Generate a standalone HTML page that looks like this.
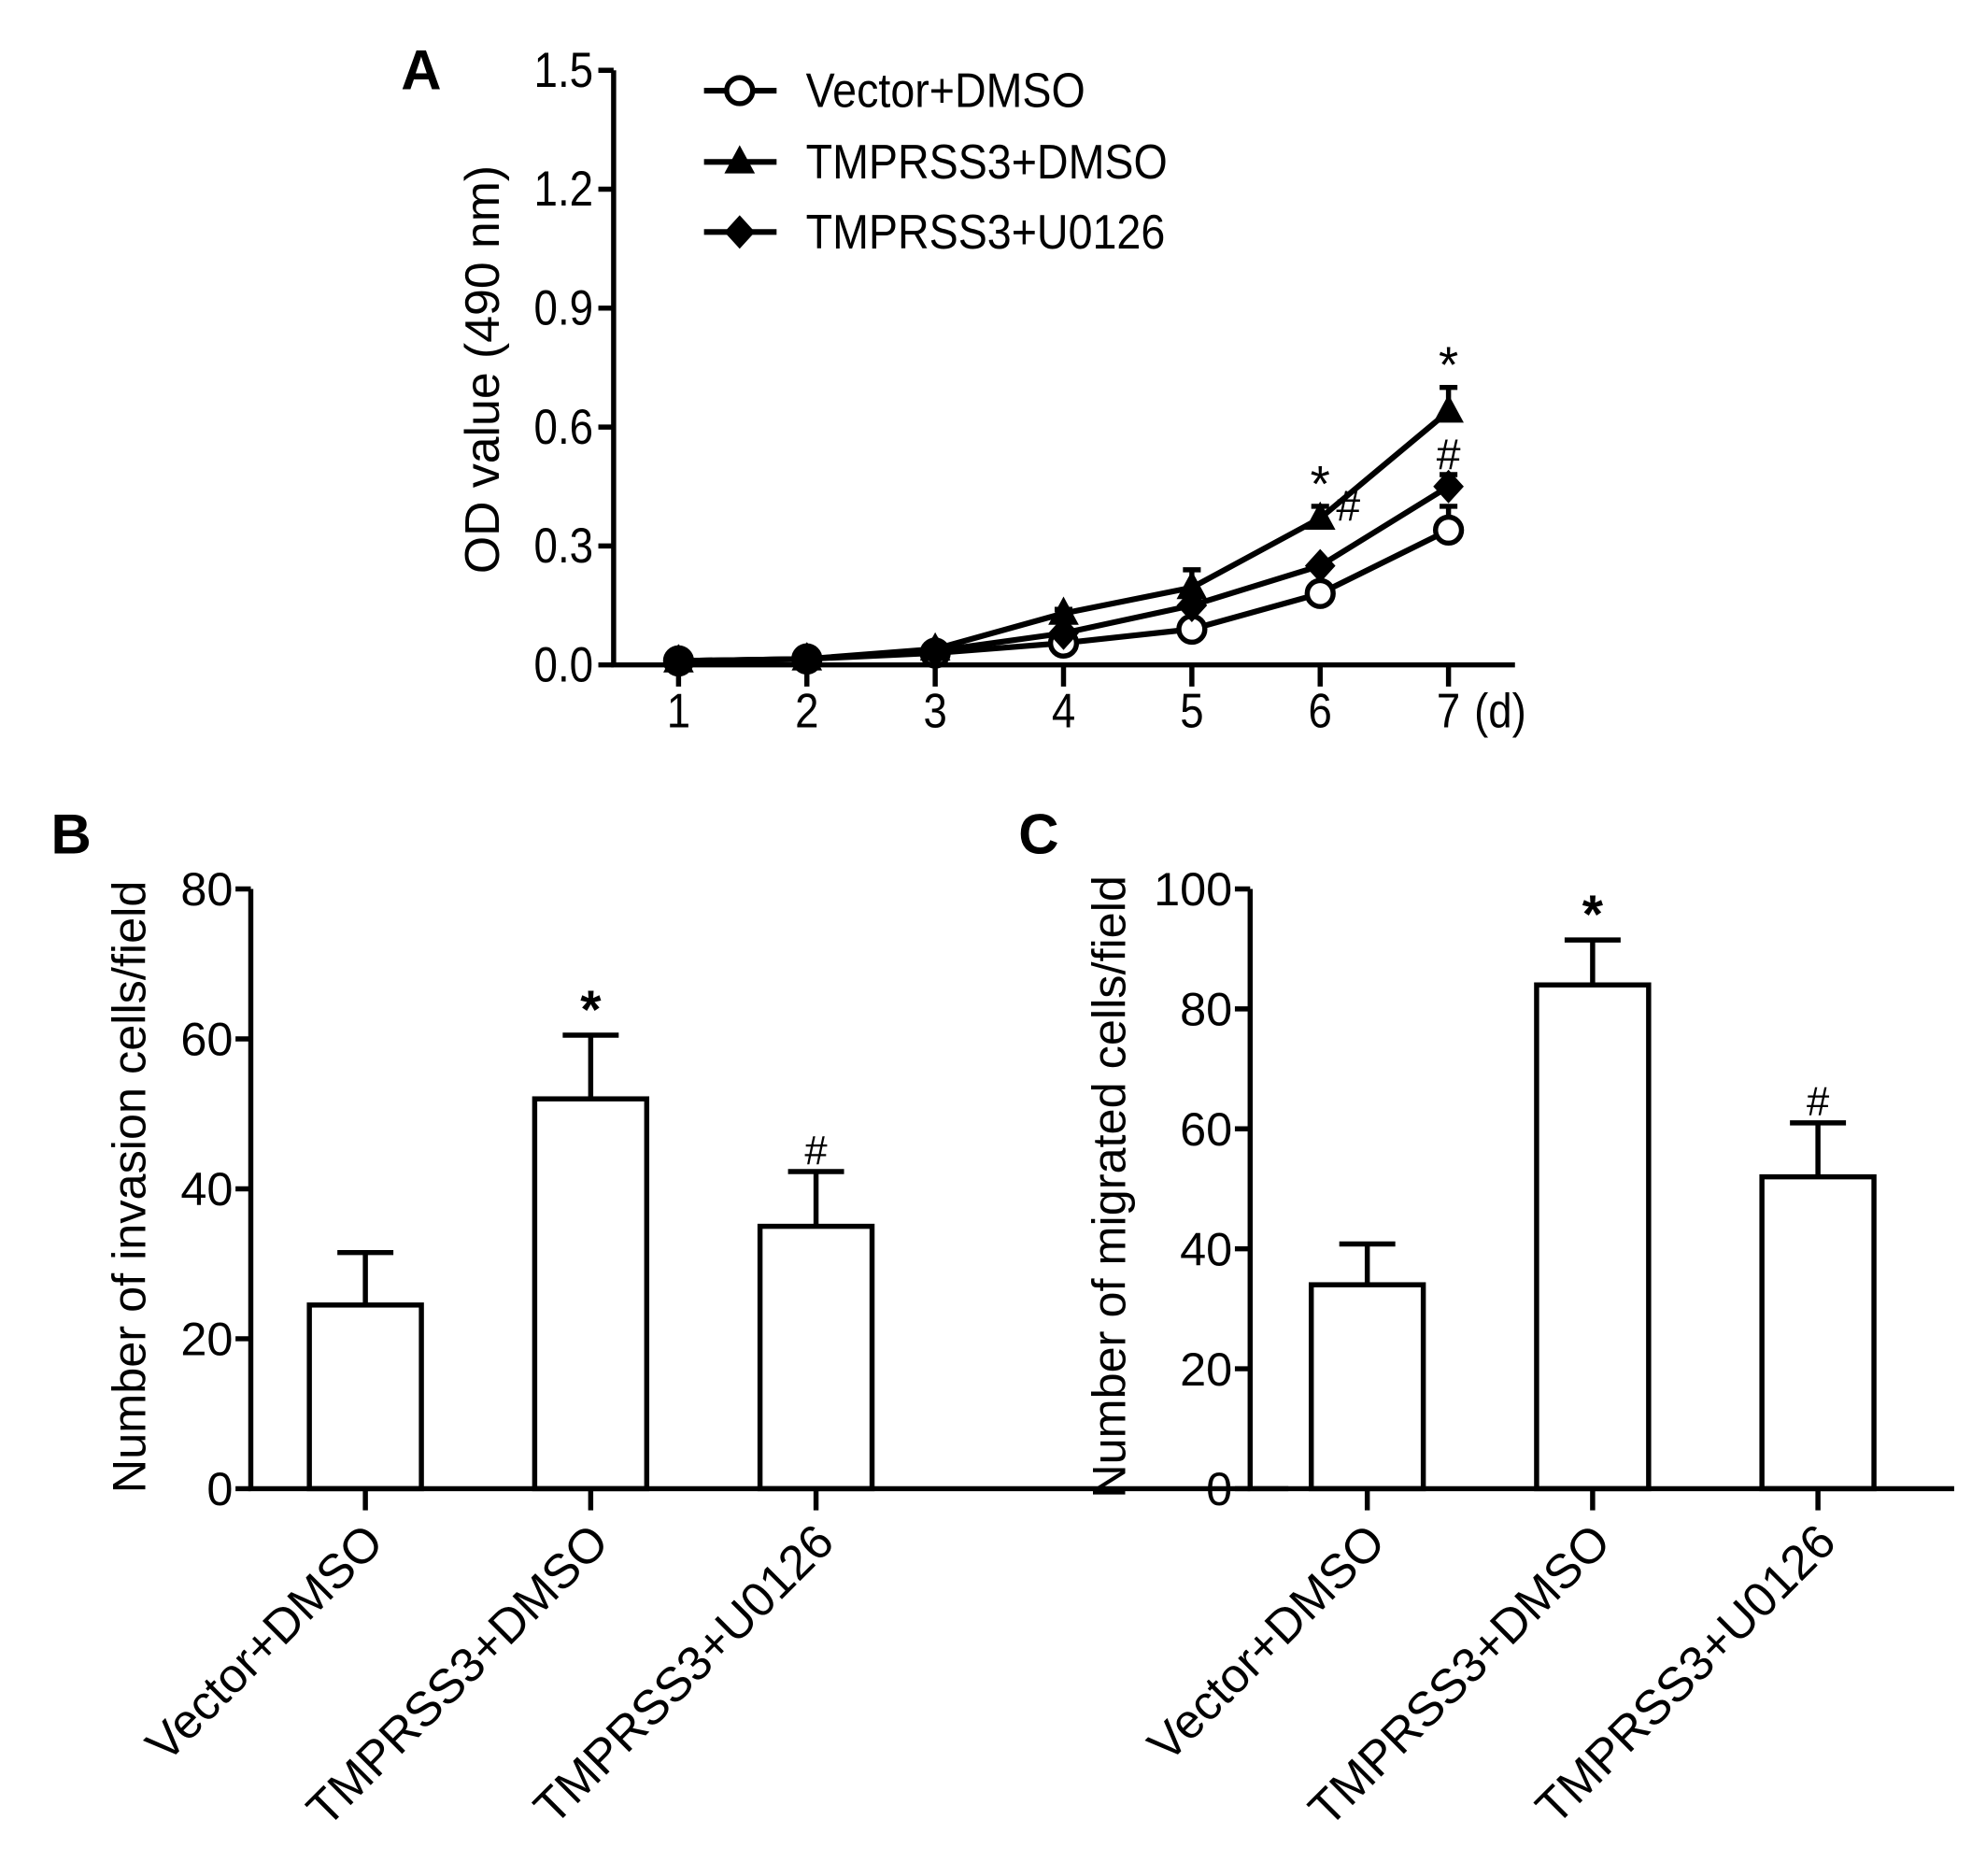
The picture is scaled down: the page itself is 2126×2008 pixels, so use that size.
<!DOCTYPE html>
<html><head><meta charset="utf-8"><style>
html,body{margin:0;padding:0;background:#fff;}
svg{display:block;}
text{font-family:"Liberation Sans",Arial,sans-serif;fill:#000;}
</style></head><body>
<svg id="fig" width="2126" height="2008" viewBox="0 0 1560 1473" xmlns="http://www.w3.org/2000/svg">
<g id="pa"></g>
<g id="pb"></g>
<g id="pc"></g>
</svg>
<script>
// Panel A data
const daysA = [1,2,3,4,5,6,7];
const seriesNames = ["Vector+DMSO","TMPRSS3+DMSO","TMPRSS3+U0126"];
const vectorVals = [0.01,0.015,0.03,0.055,0.09,0.18,0.34];
const vectorErr = [0,0,0,0,0,0.02,0.06];
const tmpVals = [0.01,0.015,0.04,0.13,0.195,0.37,0.64];
const tmpErr = [0,0,0,0.01,0.045,0.03,0.06];
const uVals = [0.01,0.015,0.035,0.08,0.15,0.25,0.45];
const uErr = [0,0,0,0,0.01,0.01,0.03];
const yTicksA = [0,0.3,0.6,0.9,1.2,1.5];
const yTickLabelsA = ["0.0","0.3","0.6","0.9","1.2","1.5"];
// Panel B data
const catsB = ["Vector+DMSO","TMPRSS3+DMSO","TMPRSS3+U0126"];
const valsB = [24.5,52,35];
const errB = [7,8.5,7.3];
const marksB = ["","*","#"];
const yTicksB = [0,20,40,60,80];
// Panel C data
const catsC = ["Vector+DMSO","TMPRSS3+DMSO","TMPRSS3+U0126"];
const valsC = [34,84,52];
const errC = [6.8,7.5,9];
const marksC = ["","*","#"];
const yTicksC = [0,20,40,60,80,100];

const NS="http://www.w3.org/2000/svg";
function mk(parent,tag,attrs,txt){const e=document.createElementNS(NS,tag);for(const k in attrs)e.setAttribute(k,attrs[k]);if(txt!==undefined)e.textContent=txt;parent.appendChild(e);return e;}
const SW=4;

// ---- Panel A
(function(){
const g=document.getElementById('pa');
const x0=482,x1=1190,y0=522,yTop=55;
const xs=d=>533+(d-1)*100.8;
const ys=v=>y0-(v/1.5)*(y0-yTop);
let t=mk(g,'text',{x:315,y:70,'font-size':44,'font-weight':'bold'},'A');

let ax=mk(g,'path',{d:`M${x0},${yTop} V${y0} H${x1}`,stroke:'#000','stroke-width':SW,fill:'none'});

yTicksA.forEach((v,i)=>{
  const l=mk(g,'line',{x1:x0-12,x2:x0,y1:ys(v),y2:ys(v),stroke:'#000','stroke-width':SW});
  
  const tt=mk(g,'text',{x:x0-16,y:ys(v)+13,'font-size':39,'text-anchor':'end',transform:`translate(${x0-16},0) scale(0.86,1) translate(${-(x0-16)},0)`},yTickLabelsA[i]);
  
});
daysA.forEach(d=>{
  const l=mk(g,'line',{x1:xs(d),x2:xs(d),y1:y0,y2:y0+17,stroke:'#000','stroke-width':SW});
  
  const tt=mk(g,'text',{x:xs(d),y:571,'font-size':38,'text-anchor':'middle',transform:`translate(${xs(d)},0) scale(0.88,1) translate(${-xs(d)},0)`},String(d));
  
});
t=mk(g,'text',{x:1158,y:571,'font-size':38,transform:'translate(1158,0) scale(0.88,1) translate(-1158,0)'},'(d)');

t=mk(g,'text',{x:0,y:0,'font-size':38,'text-anchor':'middle',transform:'translate(392,290) rotate(-90)'},'OD value (490 nm)');

function marker(gg,type,x,y,s){
  if(type==='circle')return mk(gg,'circle',{cx:x,cy:y,r:s*0.85,fill:'#fff',stroke:'#000','stroke-width':SW});
  if(type==='tri')return mk(gg,'path',{d:`M${x},${y-s*1.1} L${x+s},${y+s*0.75} L${x-s},${y+s*0.75}Z`,fill:'#000'});
  return mk(gg,'path',{d:`M${x},${y-s*1.1} L${x+s},${y} L${x},${y+s*1.1} L${x-s},${y}Z`,fill:'#000'});
}
const all=[[vectorVals,vectorErr,'circle','series-vector-dmso'],[tmpVals,tmpErr,'tri','series-tmprss3-dmso'],[uVals,uErr,'diamond','series-tmprss3-u0126']];
all.forEach(([vals,errs,type,name])=>{
  const sg=mk(g,'g',{});
  
  vals.forEach((v,i)=>{ if(errs[i]>0){
    mk(sg,'path',{d:`M${xs(daysA[i])},${ys(v)} V${ys(v+errs[i])} M${xs(daysA[i])-7},${ys(v+errs[i])} H${xs(daysA[i])+7}`,stroke:'#000','stroke-width':SW,fill:'none'});}});
  const p=mk(sg,'polyline',{points:vals.map((v,i)=>xs(daysA[i])+','+ys(v)).join(' '),stroke:'#000','stroke-width':4.5,fill:'none'});
  
  vals.forEach((v,i)=>{const m=marker(sg,type,xs(daysA[i]),ys(v),12);
    });
});
[[6,tmpVals[5]+tmpErr[5],'*',0,40],[7,tmpVals[6]+tmpErr[6],'*',0,40],[7,uVals[6]+uErr[6],'#',0,34],[6,uVals[5]+0.1,'#',22,34]].forEach(([d,v,s,dx,fs])=>{
  const tt=mk(g,'text',{x:xs(d)+dx,y:ys(v)-4,'font-size':fs,'text-anchor':'middle'},s);
  
});
const names=seriesNames,types=['circle','tri','diamond'],ly=[71,127,182];
names.forEach((n,i)=>{
  const lg=mk(g,'g',{});
  
  mk(lg,'line',{x1:553,x2:610,y1:ly[i],y2:ly[i],stroke:'#000','stroke-width':4.5});
  marker(lg,types[i],581,ly[i],12);
  mk(lg,'text',{x:633,y:ly[i]+13,'font-size':38,transform:`translate(633,0) scale(0.9,1) translate(-633,0)`},n);
});
})();

// ---- Bar panels
function barPanel(id,letter,lx,x0,x1,ymax,cats,vals,errs,marks,ticks,title,titleX,bars){
const g=document.getElementById(id);
const y0=1169,yTop=698;
const ys=v=>y0-(v/ymax)*(y0-yTop);
let t=mk(g,'text',{x:lx,y:670,'font-size':44,'font-weight':'bold'},letter);

cats.forEach((c,i)=>{
  const cx=bars[0]+i*bars[1],w=88;
  const e=mk(g,'path',{d:`M${cx},${ys(vals[i])} V${ys(vals[i]+errs[i])} M${cx-22},${ys(vals[i]+errs[i])} H${cx+22}`,stroke:'#000','stroke-width':SW,fill:'none'});
  
  const r=mk(g,'rect',{x:cx-w/2,y:ys(vals[i]),width:w,height:y0-ys(vals[i]),fill:'#fff',stroke:'#000','stroke-width':SW});
  
  if(marks[i]){const m=mk(g,'text',{x:cx,y:ys(vals[i]+errs[i])-6,'font-size':marks[i]==='*'?42:32,'font-weight':marks[i]==='*'?'bold':'normal','text-anchor':'middle'},marks[i]);
    }
  const tk=mk(g,'line',{x1:cx,x2:cx,y1:y0,y2:y0+17,stroke:'#000','stroke-width':SW});
  
  const tl=mk(g,'text',{x:0,y:0,'font-size':38,'text-anchor':'end',transform:`translate(${cx+16},${y0+44}) rotate(-45)`},c);
  
});
const ax=mk(g,'path',{d:`M${x0},${yTop} V${y0} H${x1}`,stroke:'#000','stroke-width':SW,fill:'none'});

ticks.forEach(v=>{
  const l=mk(g,'line',{x1:x0-12,x2:x0,y1:ys(v),y2:ys(v),stroke:'#000','stroke-width':SW});
  
  const tt=mk(g,'text',{x:x0-14,y:ys(v)+13,'font-size':37,'text-anchor':'end'},String(v));
  
});
t=mk(g,'text',{x:0,y:0,'font-size':37,'text-anchor':'middle',transform:`translate(${titleX},932) rotate(-90)`},title);

}
barPanel('pb','B',40,197,1012,80,catsB,valsB,errB,marksB,yTicksB,'Number of invasion cells/field',114,[287,177]);
barPanel('pc','C',800,982,1535,100,catsC,valsC,errC,marksC,yTicksC,'Number of migrated cells/field',884,[1074,177]);
</script>
</body></html>
